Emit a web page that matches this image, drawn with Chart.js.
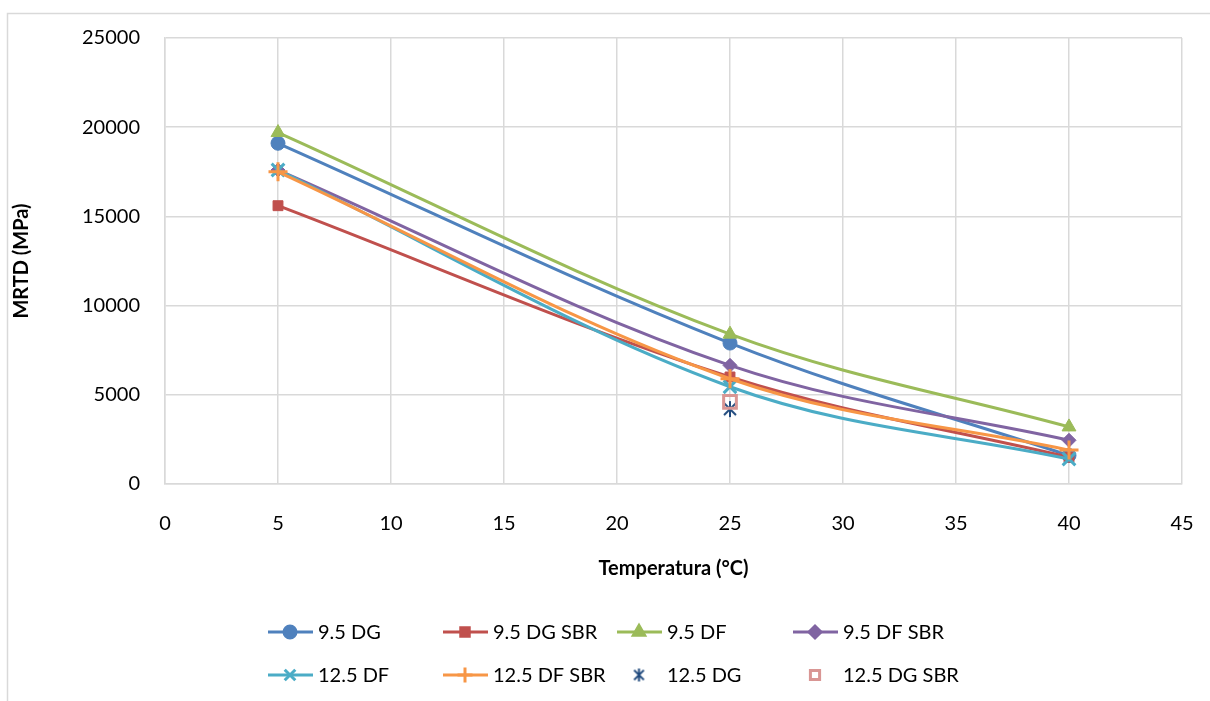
<!DOCTYPE html>
<html>
<head>
<meta charset="utf-8">
<script src="https://cdn.jsdelivr.net/npm/chart.js@4/dist/chart.umd.min.js"></script>
<style>
  html, body { margin: 0; padding: 0; background: #fff; }
  #wrap { width: 1210px; height: 701px; position: relative; }
</style>
</head>
<body>
<div id="wrap"><canvas id="c" width="1210" height="701"></canvas></div>
<script>
// Temperatures (°C) and MRTD moduli (MPa)
const temperatures = [5, 25, 40];
const dg95      = [19100, 7900, 1600];
const dg95sbr   = [15600, 6000, 1500];
const df95      = [19700, 8400, 3200];
const df95sbr   = [17600, 6650, 2450];
const df125     = [17600, 5450, 1400];
const df125sbr  = [17500, 5900, 1900];
const dg125Temp = [25];
const dg125     = [4200];
const dg125sbr  = [4600];

const xTicks = [0, 5, 10, 15, 20, 25, 30, 35, 40, 45];
const yTicks = [0, 5000, 10000, 15000, 20000, 25000];

const FONT = 'Lato, "Open Sans", sans-serif';

const pts = (xs, ys) => xs.map((x, i) => ({ x: x, y: ys[i] }));

// asterisk marker (vertical bar plus an X)
function starMarker(size, color, lw) {
  const c = document.createElement('canvas');
  c.width = size; c.height = size;
  const g = c.getContext('2d');
  g.strokeStyle = color; g.lineWidth = lw; g.lineCap = 'butt';
  const m = size / 2, r = size / 2 - 1;
  g.beginPath();
  g.moveTo(m, m - r); g.lineTo(m, m + r);
  g.moveTo(m - r * 0.75, m - r * 0.75); g.lineTo(m + r * 0.75, m + r * 0.75);
  g.moveTo(m + r * 0.75, m - r * 0.75); g.lineTo(m - r * 0.75, m + r * 0.75);
  g.stroke();
  return c;
}
const starBig = starMarker(18, '#1F497D', 2);
const starSmall = starMarker(15, '#1F497D', 2);

function lineSet(label, ys, color, style, radius, bw, order) {
  return {
    label: label,
    data: pts(temperatures, ys),
    borderColor: color,
    backgroundColor: color,
    borderWidth: 3,
    pointStyle: style,
    pointRadius: radius,
    pointHoverRadius: radius,
    pointBorderWidth: bw,
    pointBorderColor: color,
    pointBackgroundColor: color,
    tension: 0.35,
    order: order
  };
}

const datasets = [
  lineSet('9.5 DG', dg95, '#4F81BD', 'circle', 7, 1, 8),
  lineSet('9.5 DG SBR', dg95sbr, '#C0504D', 'rect', 7, 1, 7),
  lineSet('9.5 DF', df95, '#9BBB59', 'triangle', 8, 1, 6),
  lineSet('9.5 DF SBR', df95sbr, '#8064A2', 'rectRot', 7, 1, 5),
  lineSet('12.5 DF', df125, '#4BACC6', 'crossRot', 9, 3, 4),
  lineSet('12.5 DF SBR', df125sbr, '#F79646', 'cross', 9.5, 3, 3),
  {
    label: '12.5 DG',
    data: pts(dg125Temp, dg125),
    showLine: false,
    pointStyle: starBig,
    pointRadius: 9,
    borderColor: '#1F497D',
    backgroundColor: '#1F497D',
    order: 2
  },
  {
    label: '12.5 DG SBR',
    data: pts(dg125Temp, dg125sbr),
    showLine: false,
    pointStyle: 'rect',
    pointRadius: 9,
    pointBorderWidth: 3,
    borderColor: '#D99694',
    pointBorderColor: '#D99694',
    pointBackgroundColor: 'rgba(255,255,255,0)',
    backgroundColor: 'rgba(255,255,255,0)',
    order: 1
  }
];

// legend grid: 4 columns x 2 rows under the plot
const legendCols = [268, 443, 617, 793];
const legendRows = [632, 675];

const framePlugin = {
  id: 'frame',
  beforeDraw(chart) {
    const ctx = chart.ctx;
    ctx.save();
    ctx.fillStyle = '#fff';
    ctx.fillRect(0, 0, chart.width, chart.height);
    ctx.strokeStyle = '#d9d9d9';
    ctx.lineWidth = 1.5;
    ctx.strokeRect(7.5, 13.5, chart.width + 20, chart.height + 20);
    ctx.restore();
  }
};

const legendPlugin = {
  id: 'gridLegend',
  afterDraw(chart) {
    const ctx = chart.ctx;
    const drawPoint = Chart.helpers.drawPoint;
    ctx.save();
    ctx.font = '20px ' + FONT;
    ctx.textBaseline = 'middle';
    ctx.textAlign = 'left';
    chart.data.datasets.forEach((ds, i) => {
      const x0 = legendCols[i % 4];
      const y = legendRows[Math.floor(i / 4)];
      const cx = x0 + 22;
      const color = ds.pointBorderColor || ds.borderColor;
      if (ds.showLine !== false) {
        ctx.strokeStyle = ds.borderColor;
        ctx.lineWidth = 3;
        ctx.beginPath();
        ctx.moveTo(x0, y);
        ctx.lineTo(x0 + 45, y);
        ctx.stroke();
      }
      ctx.strokeStyle = color;
      ctx.fillStyle = ds.pointBackgroundColor || ds.backgroundColor;
      let style = ds.pointStyle;
      let r = 6;
      let bw = ds.pointBorderWidth || 1;
      if (style === starBig) { style = starSmall; }
      if (style === 'triangle') r = 6.5;
      if (style === 'cross' || style === 'crossRot') r = 7.5;
      if (ds.label === '12.5 DG SBR') r = 6.5;
      drawPoint(ctx, { pointStyle: style, rotation: 0, radius: r, borderWidth: bw }, cx, y);
      ctx.fillStyle = '#000';
      ctx.fillText(ds.label, x0 + 50, y + 1);
    });
    ctx.restore();
  }
};

new Chart(document.getElementById('c'), {
  type: 'line',
  data: { datasets: datasets },
  plugins: [framePlugin, legendPlugin],
  options: {
    responsive: false,
    animation: false,
    layout: { padding: { left: 0, right: 28, top: 38, bottom: 117 } },
    plugins: { legend: { display: false }, tooltip: { enabled: false } },
    scales: {
      x: {
        type: 'linear',
        min: 0, max: 45,
        afterBuildTicks(scale) { scale.ticks = xTicks.map(v => ({ value: v })); },
        afterFit(scale) { scale.height = 100; scale.paddingLeft = 0; scale.paddingRight = 0; },
        grid: { color: '#d9d9d9', lineWidth: 1.5, drawTicks: false },
        border: { color: '#d9d9d9', width: 1.5 },
        ticks: { color: '#000', font: { family: FONT, size: 20 }, padding: 28, callback: v => String(v) },
        title: {
          display: true, text: 'Temperatura (°C)', color: '#000',
          font: { family: FONT, size: 20, weight: 'bold' },
          padding: { top: 0, bottom: 3 }
        }
      },
      y: {
        type: 'linear',
        min: 0, max: 25000,
        afterBuildTicks(scale) { scale.ticks = yTicks.map(v => ({ value: v })); },
        afterFit(scale) { scale.width = 165; },
        grid: { color: '#d9d9d9', lineWidth: 1.5, drawTicks: false },
        border: { color: '#d9d9d9', width: 1.5 },
        ticks: { color: '#000', font: { family: FONT, size: 20 }, padding: 25, callback: v => String(v) },
        title: {
          display: true, text: 'MRTD (MPa)', color: '#000',
          font: { family: FONT, size: 20, weight: 'bold' },
          padding: { top: 10, bottom: 0 }
        }
      }
    }
  }
});
</script>
</body>
</html>
